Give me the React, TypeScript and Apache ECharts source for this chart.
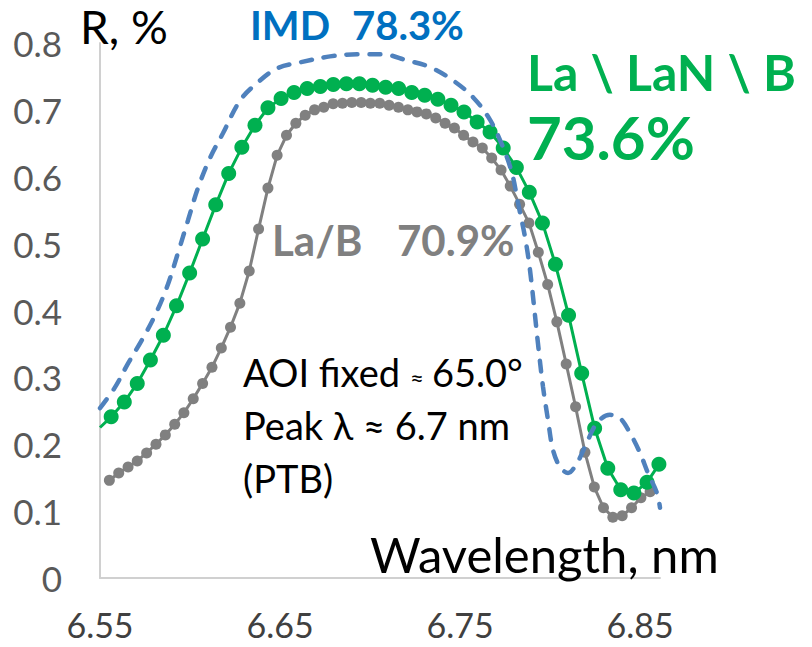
import React, { useEffect, useRef } from "react";
import * as echarts from "echarts";

// ---- Tick labels ----
const xTickLabels = ["6.55", "6.65", "6.75", "6.85"];
const yTickLabels = ["0", "0.1", "0.2", "0.3", "0.4", "0.5", "0.6", "0.7", "0.8"];

// ---- La \ LaN \ B (green, large markers) ----
const greenLeadIn = [6.55, 0.225];
const greenX = [
  6.5562, 6.5635, 6.5707, 6.578, 6.5852, 6.5925, 6.5998, 6.607, 6.6143, 6.6215,
  6.6288, 6.6361, 6.6433, 6.6506, 6.6578, 6.6651, 6.6724, 6.6796, 6.6869,
  6.6941, 6.7014, 6.7087, 6.7159, 6.7232, 6.7304, 6.7377, 6.745, 6.7522, 6.7595,
  6.7667, 6.774, 6.7813, 6.7885, 6.7958, 6.803, 6.8103, 6.8176, 6.8248, 6.8321,
  6.8393, 6.8466, 6.8539, 6.8605,
];
const greenY = [
  0.241, 0.263, 0.291, 0.326, 0.363, 0.407, 0.456, 0.507, 0.558, 0.605, 0.644,
  0.677, 0.703, 0.717, 0.726, 0.732, 0.735, 0.738, 0.739, 0.739, 0.737, 0.734,
  0.732, 0.726, 0.722, 0.716, 0.707, 0.697, 0.682, 0.667, 0.643, 0.614, 0.577,
  0.531, 0.469, 0.393, 0.306, 0.224, 0.164, 0.132, 0.127, 0.143, 0.17,
];

// ---- La/B (gray, small markers) ----
const grayX = [
  6.5552, 6.5604, 6.5656, 6.5707, 6.5759, 6.5811, 6.5863, 6.5915, 6.5966,
  6.6018, 6.607, 6.6122, 6.6174, 6.6225, 6.6277, 6.6329, 6.6381, 6.6433, 6.6484,
  6.6536, 6.6588, 6.664, 6.6692, 6.6743, 6.6795, 6.6847, 6.6899, 6.6951, 6.7002,
  6.7054, 6.7106, 6.7158, 6.721, 6.7261, 6.7313, 6.7365, 6.7417, 6.7469, 6.752,
  6.7572, 6.7624, 6.7676, 6.7728, 6.7779, 6.7831, 6.7883, 6.7935, 6.7987,
  6.8038, 6.809, 6.8142, 6.8194, 6.8246, 6.8297, 6.8349, 6.8401, 6.8453, 6.8505,
  6.8556,
];
const grayY = [
  0.146, 0.157, 0.166, 0.175, 0.187, 0.2, 0.214, 0.23, 0.247, 0.268, 0.291,
  0.315, 0.344, 0.375, 0.411, 0.459, 0.522, 0.583, 0.632, 0.662, 0.68, 0.692,
  0.7, 0.704, 0.709, 0.71, 0.711, 0.711, 0.71, 0.71, 0.707, 0.704, 0.7, 0.697,
  0.694, 0.688, 0.68, 0.673, 0.662, 0.652, 0.643, 0.628, 0.61, 0.586, 0.559,
  0.531, 0.487, 0.439, 0.383, 0.32, 0.256, 0.188, 0.136, 0.105, 0.091, 0.093,
  0.105, 0.12, 0.129,
];

// ---- IMD (blue dashed) ----
const blueX = [
  6.55, 6.5583, 6.5656, 6.5733, 6.5806, 6.5872, 6.5933, 6.5989, 6.6044, 6.6111,
  6.6183, 6.6278, 6.6372, 6.6483, 6.6611, 6.6778, 6.6928, 6.7072, 6.7206,
  6.7333, 6.7461, 6.7572, 6.7667, 6.7739, 6.7789, 6.7822, 6.7861, 6.7889,
  6.7933, 6.7961, 6.7989, 6.8017, 6.8056, 6.81, 6.815, 6.8194, 6.8261, 6.8333,
  6.8389, 6.8444, 6.85, 6.8544, 6.8594, 6.8611,
];
const blueY = [
  0.254, 0.285, 0.321, 0.356, 0.393, 0.435, 0.486, 0.535, 0.583, 0.628, 0.665,
  0.714, 0.74, 0.762, 0.771, 0.78, 0.783, 0.783, 0.774, 0.764, 0.744, 0.719,
  0.685, 0.644, 0.605, 0.561, 0.51, 0.46, 0.351, 0.286, 0.236, 0.191, 0.166,
  0.157, 0.172, 0.196, 0.232, 0.244, 0.239, 0.217, 0.187, 0.157, 0.127, 0.105,
];

const X_MIN = 6.55;
const X_MAX = 6.8611;

const FONT = 'Lato, "Noto Sans", "DejaVu Sans", sans-serif';

function txt(x: number, y: number, text: string, size: number, color: string, bold = false) {
  return {
    type: "text",
    x,
    y,
    z: 100,
    style: {
      text,
      fill: color,
      font: `${bold ? "bold " : ""}${size}px ${FONT}`,
      align: "left",
      verticalAlign: "middle",
    },
  };
}

export default function App() {
  const ref = useRef<HTMLDivElement>(null);

  useEffect(() => {
    if (!ref.current) return;
    const chart = echarts.init(ref.current, undefined, { renderer: "svg" });

    const greenData: any[] = [
      { value: greenLeadIn, symbol: "none" },
      ...greenX.map((x, i) => [x, greenY[i]]),
    ];

    const option: any = {
      animation: false,
      backgroundColor: "#ffffff",
      grid: { left: 100, right: 152, top: 43, bottom: 69, containLabel: false },
      xAxis: {
        type: "value",
        min: X_MIN,
        max: X_MAX,
        interval: 0.05,
        axisLine: { show: true, onZero: false, lineStyle: { color: "#d0d0d0", width: 2 } },
        axisTick: { show: false },
        splitLine: { show: false },
        axisLabel: {
          fontSize: 34,
          fontFamily: FONT,
          color: "#404040",
          margin: 29,
          showMinLabel: true,
          showMaxLabel: true,
          formatter: (v: number) => {
            const s = v.toFixed(2);
            return xTickLabels.includes(s) ? s : "";
          },
        },
      },
      yAxis: {
        type: "value",
        min: 0,
        max: 0.8,
        interval: 0.1,
        axisLine: { show: true, lineStyle: { color: "#d0d0d0", width: 2 } },
        axisTick: { show: false },
        splitLine: { show: false },
        axisLabel: {
          fontSize: 35,
          fontFamily: FONT,
          color: "#595959",
          margin: 38,
          formatter: (v: number) => yTickLabels[Math.round(v * 10)] ?? "",
        },
      },
      series: [
        {
          name: "La/B",
          type: "line",
          data: grayX.map((x, i) => [x, grayY[i]]),
          symbol: "circle",
          symbolSize: 11,
          showAllSymbol: true,
          lineStyle: { color: "#808080", width: 3 },
          itemStyle: { color: "#808080", borderWidth: 0 },
          z: 2,
        },
        {
          name: "La \\ LaN \\ B",
          type: "line",
          data: greenData,
          symbol: "circle",
          symbolSize: 15,
          showAllSymbol: true,
          lineStyle: { color: "#00b050", width: 3 },
          itemStyle: { color: "#00b050", borderWidth: 0 },
          z: 3,
        },
        {
          name: "IMD",
          type: "line",
          data: blueX.map((x, i) => [x, blueY[i]]),
          symbol: "none",
          smooth: 0.35,
          lineStyle: { color: "#4f81bd", width: 4.5, type: [11, 12], cap: "round" },
          z: 4,
        },
      ],
      graphic: [
        txt(80, 26, "R, %", 46, "#000000"),
        txt(250, 25, "IMD", 40, "#0070c0", true),
        txt(352, 25, "78.3%", 40, "#0070c0", true),
        txt(527, 72, "La \\ LaN \\ B", 50, "#00b050", true),
        txt(527, 137, "73.6%", 60, "#00b050", true),
        txt(272, 240, "La/B", 42, "#808080", true),
        txt(397, 240, "70.9%", 42, "#808080", true),
        txt(243, 372, "AOI fixed", 38, "#000000"),
        txt(410, 376, "≈", 24, "#000000"),
        txt(432, 372, "65.0°", 38, "#000000"),
        txt(243, 425, "Peak λ ≈ 6.7 nm", 38, "#000000"),
        txt(243, 478, "(PTB)", 38, "#000000"),
        txt(370, 554, "Wavelength, nm", 49, "#000000"),
      ],
    };

    chart.setOption(option);
    return () => chart.dispose();
  }, []);

  return (
    <div
      ref={ref}
      style={{ position: "fixed", left: 0, top: 0, width: 812, height: 647, background: "#fff" }}
    />
  );
}
